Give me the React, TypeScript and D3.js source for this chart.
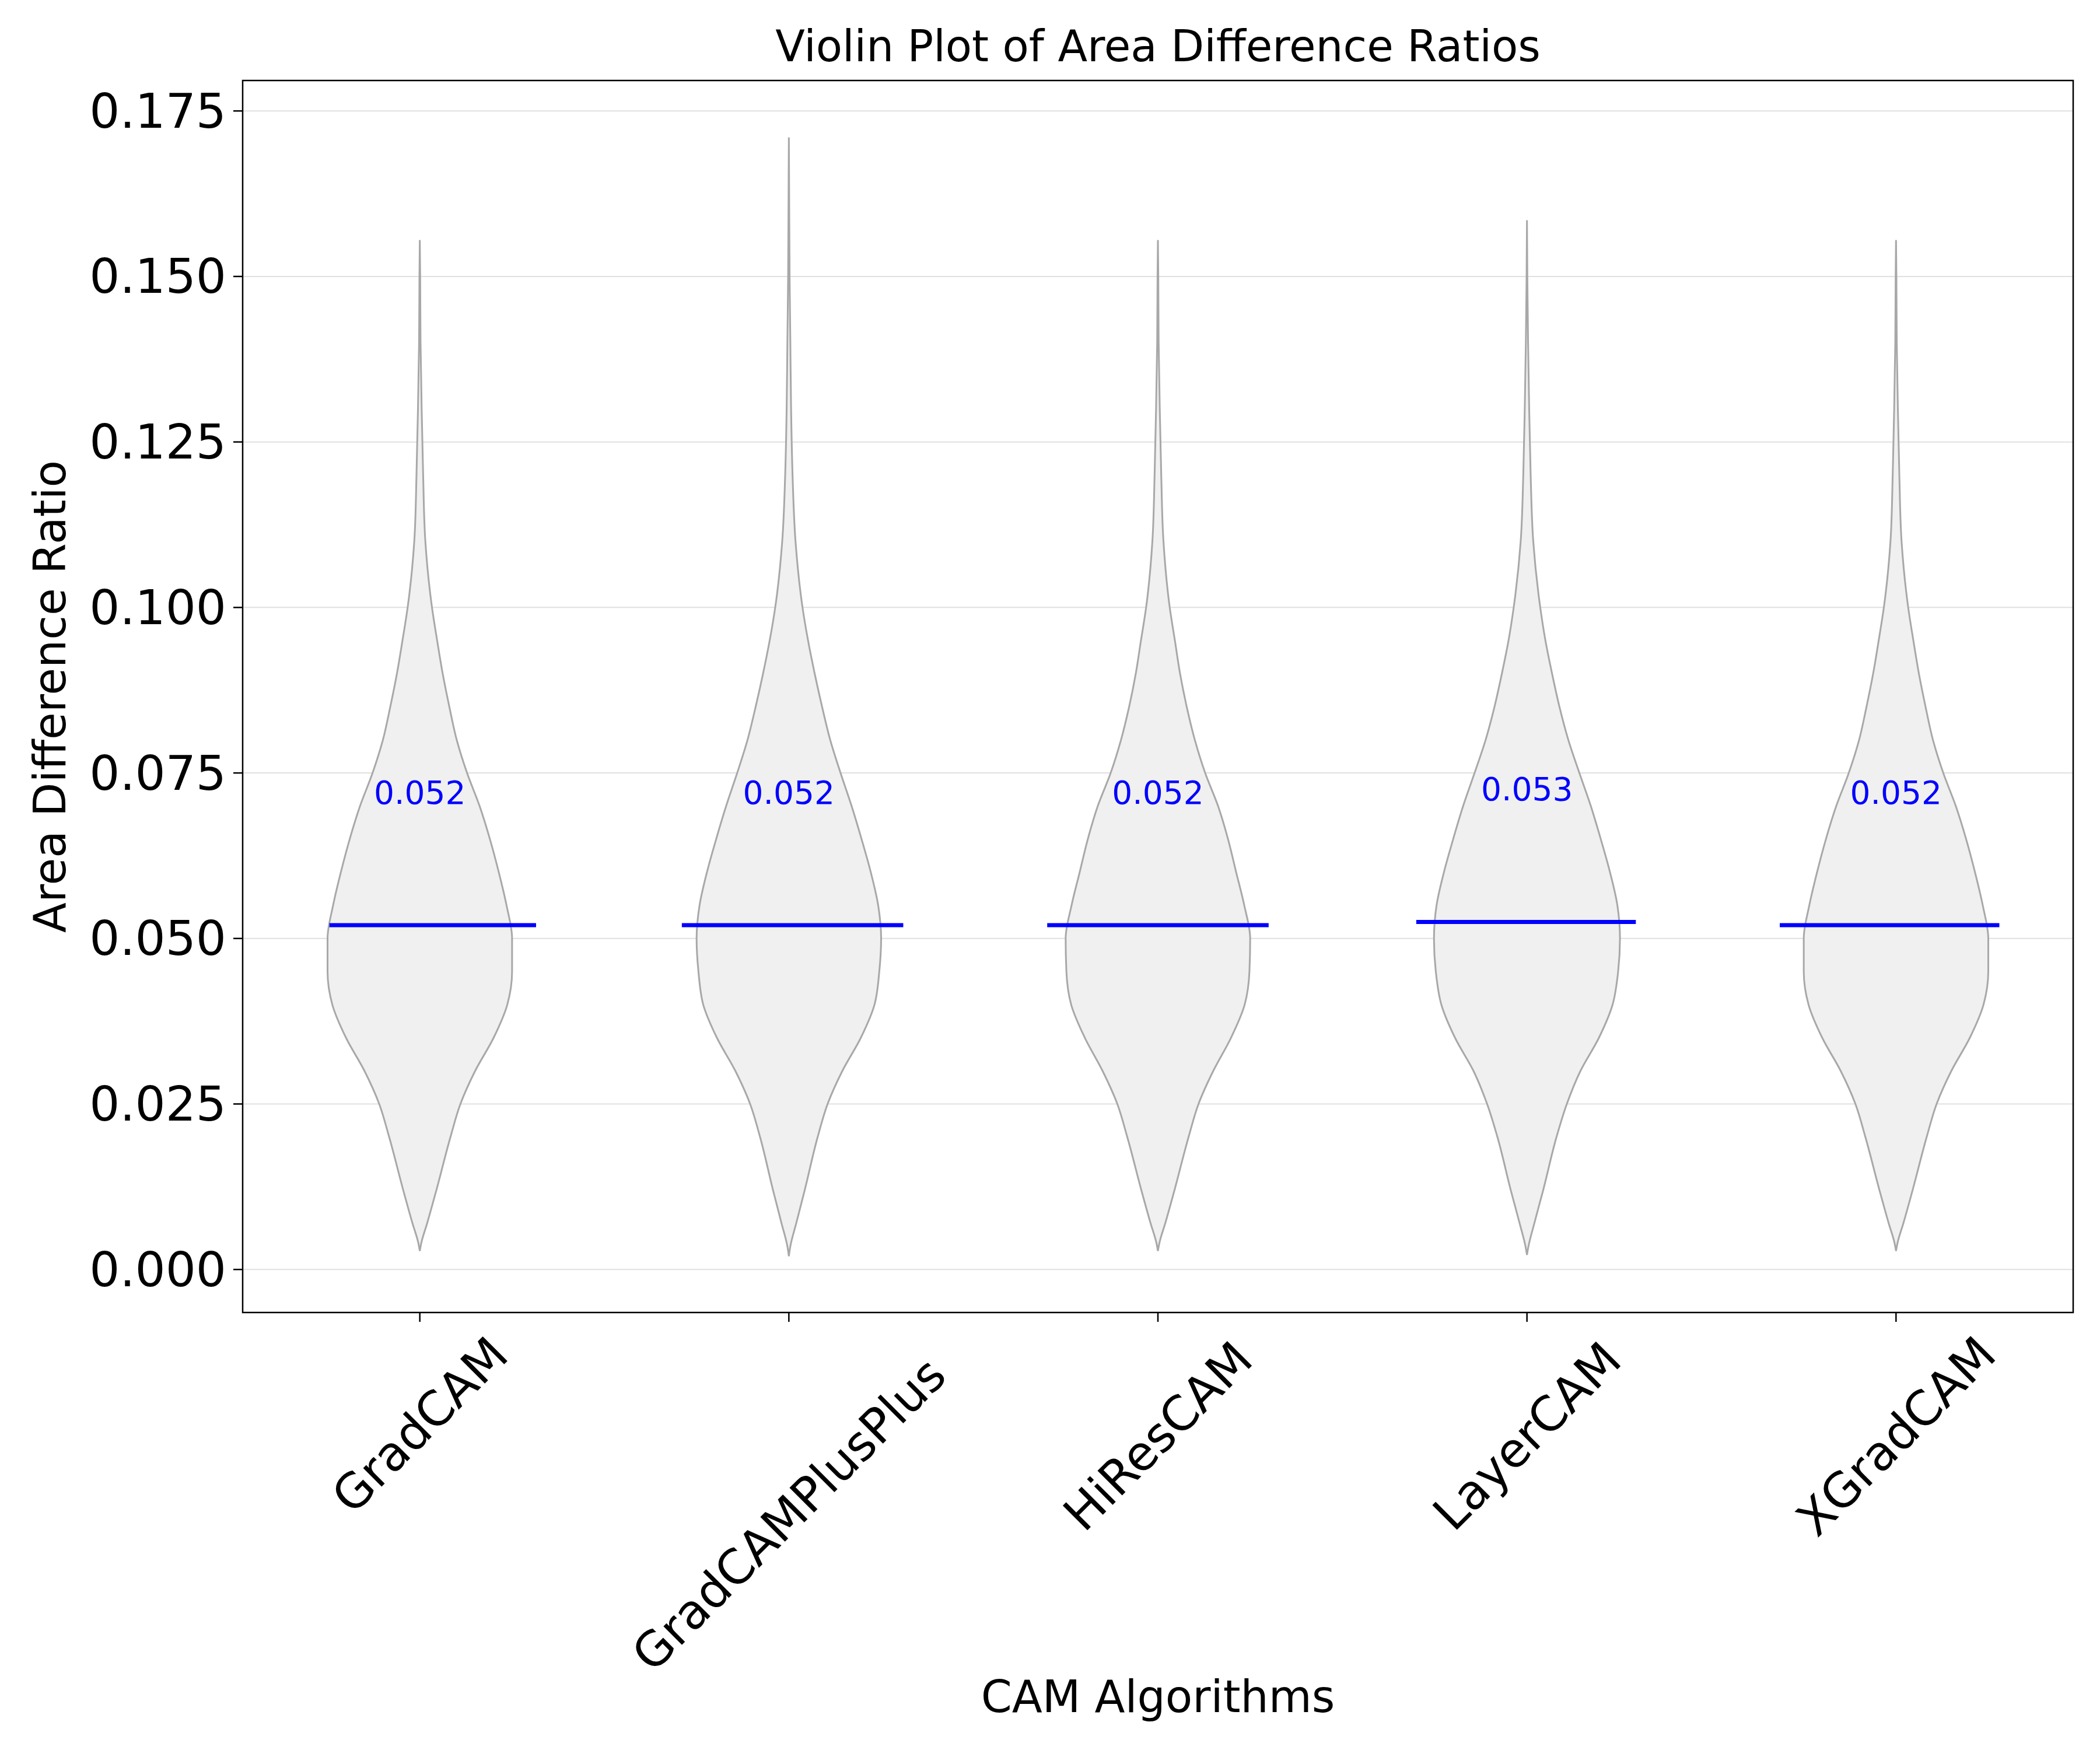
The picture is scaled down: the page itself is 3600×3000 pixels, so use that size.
import * as d3 from "d3";

const categories = ["GradCAM", "GradCAMPlusPlus", "HiResCAM", "LayerCAM", "XGradCAM"];
const means = [0.052, 0.052, 0.052, 0.0525, 0.052];
const meanLabels = ["0.052", "0.052", "0.052", "0.053", "0.052"];
// mean line extents relative to category position (x units)
const meanLeft = [-0.245, -0.29, -0.3, -0.3, -0.315];
const meanRight = [0.315, 0.31, 0.3, 0.295, 0.28];
const yTicks = [0, 0.025, 0.05, 0.075, 0.1, 0.125, 0.15, 0.175];

// violin outlines: [value, half-width in x units]
const gradcam: [number, number][] = [
  [0.0028, 0], [0.004, 0.004], [0.007, 0.02], [0.012, 0.045], [0.02, 0.083], [0.025, 0.11], [0.03, 0.15],
  [0.035, 0.2], [0.04, 0.237], [0.045, 0.25], [0.05, 0.25], [0.055, 0.235], [0.06, 0.214],
  [0.065, 0.19], [0.07, 0.162], [0.075, 0.128], [0.08, 0.1], [0.085, 0.08], [0.09, 0.062],
  [0.095, 0.047], [0.1, 0.033], [0.11, 0.015], [0.12, 0.009], [0.13, 0.005], [0.14, 0.002],
  [0.15, 0.001], [0.1555, 0],
];
const gradcampp: [number, number][] = [
  [0.002, 0], [0.0035, 0.004], [0.007, 0.02], [0.012, 0.043], [0.02, 0.078], [0.025, 0.105], [0.03, 0.145],
  [0.035, 0.195], [0.04, 0.232], [0.045, 0.245], [0.05, 0.25], [0.055, 0.242], [0.06, 0.222],
  [0.065, 0.197], [0.07, 0.17], [0.075, 0.14], [0.08, 0.112], [0.085, 0.09], [0.09, 0.07],
  [0.095, 0.052], [0.1, 0.037], [0.11, 0.018], [0.12, 0.01], [0.13, 0.006], [0.14, 0.004],
  [0.15, 0.002], [0.16, 0.001], [0.171, 0],
];
const hirescam: [number, number][] = [
  [0.0028, 0], [0.004, 0.004], [0.007, 0.02], [0.012, 0.045], [0.02, 0.083], [0.025, 0.11], [0.03, 0.15],
  [0.035, 0.198], [0.04, 0.235], [0.045, 0.248], [0.05, 0.25], [0.055, 0.234], [0.06, 0.212],
  [0.065, 0.19], [0.07, 0.163], [0.075, 0.128], [0.08, 0.1], [0.085, 0.078], [0.09, 0.06],
  [0.095, 0.046], [0.1, 0.032], [0.11, 0.015], [0.12, 0.009], [0.13, 0.005], [0.14, 0.002],
  [0.15, 0.001], [0.1555, 0],
];
const layercam: [number, number][] = [
  [0.0022, 0], [0.0035, 0.004], [0.007, 0.02], [0.012, 0.044], [0.02, 0.08], [0.025, 0.108], [0.03, 0.145],
  [0.035, 0.195], [0.04, 0.232], [0.045, 0.247], [0.05, 0.252], [0.055, 0.245], [0.06, 0.225],
  [0.065, 0.2], [0.07, 0.173], [0.075, 0.142], [0.08, 0.112], [0.085, 0.088], [0.09, 0.068],
  [0.095, 0.05], [0.1, 0.036], [0.11, 0.017], [0.12, 0.01], [0.13, 0.006], [0.14, 0.003],
  [0.15, 0.001], [0.1585, 0],
];
const xgradcam: [number, number][] = [
  [0.0028, 0], [0.004, 0.004], [0.007, 0.02], [0.012, 0.045], [0.02, 0.083], [0.025, 0.11], [0.03, 0.15],
  [0.035, 0.2], [0.04, 0.237], [0.045, 0.25], [0.05, 0.25], [0.055, 0.235], [0.06, 0.214],
  [0.065, 0.19], [0.07, 0.162], [0.075, 0.128], [0.08, 0.1], [0.085, 0.08], [0.09, 0.062],
  [0.095, 0.047], [0.1, 0.033], [0.11, 0.015], [0.12, 0.009], [0.13, 0.005], [0.14, 0.002],
  [0.15, 0.001], [0.1555, 0],
];
const violins = [gradcam, gradcampp, hirescam, layercam, xgradcam];

const width = 3600;
const height = 3000;
const mL = 416, mR = 3554, mT = 138, mB = 2250;
const font = "DejaVu Sans, sans-serif";

export default function App() {
  const x = d3.scaleLinear([0.52, 5.48], [mL, mR]);
  const y = d3.scaleLinear([-0.0065, 0.1796], [mB, mT]);
  const xs = (v: number) => x(v) - x(0);

  return (
    <svg width={width} height={height} style={{ position: "absolute", left: 0, top: 0, background: "white" }}>
      <rect x={0} y={0} width={width} height={height} fill="white" />
      {yTicks.map((t) => (
        <line key={t} x1={mL} x2={mR} y1={y(t)} y2={y(t)} stroke="#000" strokeOpacity={0.12} strokeWidth={2} />
      ))}
      {violins.map((v, i) => {
        const cx = x(i + 1);
        const area = d3
          .area<[number, number]>()
          .y((d) => y(d[0]))
          .x0((d) => cx - xs(d[1]))
          .x1((d) => cx + xs(d[1]))
          .curve(d3.curveMonotoneY);
        return (
          <path key={i} d={area(v)!} fill="#f0f0f0" stroke="#a8a8a8" strokeWidth={3} />
        );
      })}
      {categories.map((c, i) => (
        <g key={c}>
          <line
            x1={x(i + 1 + meanLeft[i])}
            x2={x(i + 1 + meanRight[i])}
            y1={y(means[i])}
            y2={y(means[i])}
            stroke="blue"
            strokeWidth={7}
          />
          <text x={x(i + 1)} y={y(means[i] + 0.02)} textAnchor="middle" dominantBaseline="central"
            fill="blue" fontSize={55} fontFamily={font}>
            {meanLabels[i]}
          </text>
        </g>
      ))}
      <rect x={mL} y={mT} width={mR - mL} height={mB - mT} fill="none" stroke="#000" strokeWidth={2.5} />
      {yTicks.map((t) => (
        <g key={t}>
          <line x1={mL - 16} x2={mL} y1={y(t)} y2={y(t)} stroke="#000" strokeWidth={2.5} />
          <text x={mL - 28} y={y(t)} textAnchor="end" dominantBaseline="central" fontSize={82} fontFamily={font}>
            {t.toFixed(3)}
          </text>
        </g>
      ))}
      {categories.map((c, i) => {
        const cx = x(i + 1);
        const fs = 82;
        const L = c.length * 0.66 * fs;
        const cy = mB + 30 + ((L + fs) * Math.SQRT1_2) / 2;
        return (
          <g key={c}>
            <line x1={cx} x2={cx} y1={mB} y2={mB + 16} stroke="#000" strokeWidth={2.5} />
            <text x={cx} y={cy} textAnchor="middle" dominantBaseline="central" fontSize={fs} fontFamily={font}
              transform={`rotate(-45 ${cx} ${cy})`}>
              {c}
            </text>
          </g>
        );
      })}
      <text x={(mL + mR) / 2} y={105} textAnchor="middle" fontSize={74} fontFamily={font}>
        Violin Plot of Area Difference Ratios
      </text>
      <text x={(mL + mR) / 2} y={2935} textAnchor="middle" fontSize={76} fontFamily={font}>
        CAM Algorithms
      </text>
      <text transform={`translate(85 ${(mT + mB) / 2}) rotate(-90)`} textAnchor="middle" dominantBaseline="central"
        fontSize={76} fontFamily={font}>
        Area Difference Ratio
      </text>
    </svg>
  );
}
